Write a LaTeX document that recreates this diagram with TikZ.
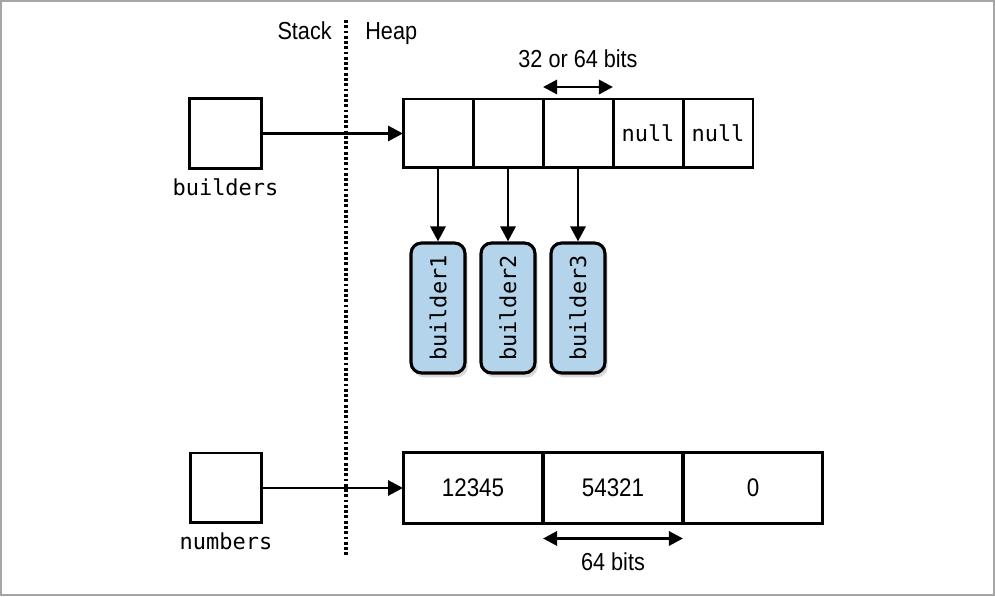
\documentclass[tikz,border=0pt]{standalone}
\usepackage{fontspec}
\setmainfont[FakeStretch=0.88]{Liberation Sans}
\setmonofont{DejaVu Sans Mono}
\usetikzlibrary{arrows.meta,positioning,shadows}
\definecolor{objblue}{HTML}{B4D4EB}
\tikzset{
  cell/.style={draw,line width=1.7pt,inner sep=0pt,outer sep=0pt,minimum width=1.4cm,minimum height=1.38cm,font=\ttfamily\fontsize{12.5}{14}\selectfont},
  wide/.style={cell,minimum width=2.8cm,minimum height=1.42cm,font=\fontsize{14.5}{16}\selectfont},
  var/.style={draw,line width=1.7pt,inner sep=0pt,outer sep=0pt,minimum width=1.43cm,minimum height=1.4cm},
  varname/.style={font=\ttfamily\fontsize{12.5}{14}\selectfont,inner sep=0pt},
  obj/.style={draw,line width=1.8pt,fill=objblue,rounded corners=6pt,rotate=90,minimum width=2.6cm,minimum height=1.08cm,inner sep=0pt,font=\ttfamily\fontsize{12.5}{14}\selectfont,drop shadow={opacity=0.3,shadow xshift=1.5pt,shadow yshift=-2.5pt}},
  ptr/.style={line width=1.7pt,-{Triangle[length=0.3cm,width=0.3cm]}},
  dim/.style={line width=1.7pt,{Triangle[length=0.28cm,width=0.28cm]}-{Triangle[length=0.28cm,width=0.28cm]}},
  lbl/.style={font=\fontsize{14}{16}\selectfont,inner sep=0pt}
}
\begin{document}
\begin{tikzpicture}[x=0.02cm,y=-0.02cm]
\useasboundingbox (0,0) rectangle (995,597);
\draw[gray!70,line width=0.6pt] (1,1) rectangle (994,595);

% stack / heap divider
\coordinate (top) at (346,20);
\coordinate (bot) at (346,557);
\draw[line width=1.9pt,dash pattern=on 1.6pt off 1.4pt] (top) -- (bot);
\node[lbl,anchor=base east] (stack) at (332,40) {Stack};
\node[lbl,anchor=base west] (heap) at (365,40) {Heap};

% builders array
\node[var] (builders) at (225.5,133.5) {};
\node[varname,below=5.5pt of builders] (builderslbl) {builders};
\foreach \i/\t in {1/,2/,3/,4/null,5/null}
  \node[cell] (c\i) at ({403+70*\i-35},133.5) {\t};
\draw[ptr] (builders) -- (c1);
\draw[dim] ([yshift=0.24cm]c3.north west) -- ([yshift=0.24cm]c3.north east)
  node[lbl,midway,above=0.36cm] (ptrsize) {32 or 64 bits};
\foreach \i/\x in {1/438,2/508,3/578} {
  \node[obj] (b\i) at (\x,308) {builder\i};
  \draw[ptr] (c\i.south) -- (b\i.east);
}

% numbers array
\node[var] (numbers) at (226,488) {};
\node[varname,below=5.5pt of numbers] (numberslbl) {numbers};
\foreach \i/\t in {1/12345,2/54321,3/0}
  \node[wide] (n\i) at ({403+140*\i-70},488) {\t};
\draw[ptr] (numbers) -- (n1);
\draw[dim] ([yshift=-0.3cm]n2.south west) -- ([yshift=-0.3cm]n2.south east)
  node[lbl,midway,below=0.26cm] (intsize) {64 bits};
\end{tikzpicture}
\end{document}
